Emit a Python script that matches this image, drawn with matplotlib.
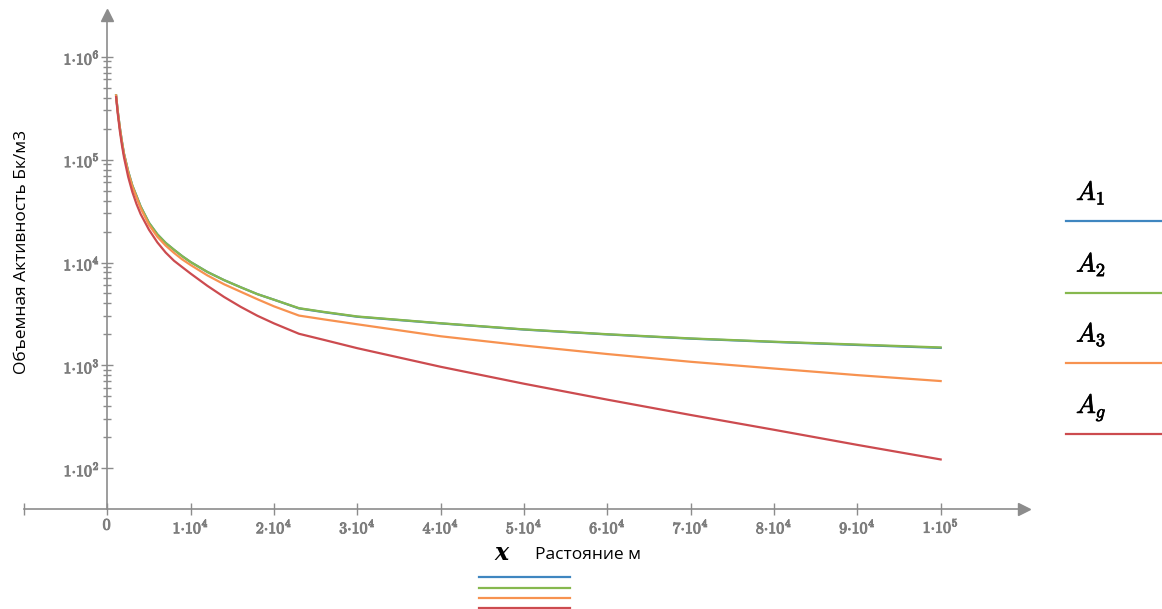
import matplotlib
matplotlib.use("Agg")
import matplotlib.pyplot as plt
import matplotlib.patheffects as pe
from matplotlib.lines import Line2D
from matplotlib.ticker import FixedLocator, NullFormatter

plt.rcParams['mathtext.fontset'] = 'cm'

# distance, m
dist = [1050, 1250, 1500, 1750, 2000, 2500, 3000, 3500, 4000, 5000, 6000, 7000, 8000,
        9000, 10000, 12000, 14000, 16000, 18000, 20000, 23000, 26000, 30000, 40000,
        50000, 60000, 70000, 80000, 90000, 100000]
# volume activity, Bq/m3
a1 = [4.2e5, 2.95e5, 2.05e5, 1.5e5, 1.14e5, 7.7e4, 5.6e4, 4.44e4, 3.5e4, 2.43e4, 1.88e4,
      1.55e4, 1.33e4, 1.15e4, 1.01e4, 8.1e3, 6.75e3, 5.75e3, 4.93e3, 4.35e3, 3.58e3,
      3.29e3, 2.97e3, 2.56e3, 2.23e3, 2.0e3, 1.82e3, 1.69e3, 1.58e3, 1.48e3]
a2 = [4.2e5, 2.95e5, 2.05e5, 1.5e5, 1.14e5, 7.7e4, 5.6e4, 4.44e4, 3.5e4, 2.43e4, 1.88e4,
      1.55e4, 1.33e4, 1.15e4, 1.01e4, 8.1e3, 6.75e3, 5.75e3, 4.93e3, 4.35e3, 3.6e3,
      3.31e3, 2.99e3, 2.57e3, 2.24e3, 2.01e3, 1.83e3, 1.7e3, 1.595e3, 1.495e3]
a3 = [4.2e5, 2.93e5, 2.02e5, 1.47e5, 1.12e5, 7.5e4, 5.45e4, 4.3e4, 3.37e4, 2.32e4, 1.78e4,
      1.46e4, 1.24e4, 1.07e4, 9.45e3, 7.5e3, 6.15e3, 5.2e3, 4.4e3, 3.75e3, 3.05e3,
      2.8e3, 2.51e3, 1.92e3, 1.56e3, 1.29e3, 1.085e3, 933, 805, 705]
ag = [4.05e5, 2.8e5, 1.9e5, 1.38e5, 1.05e5, 6.8e4, 4.85e4, 3.7e4, 2.95e4, 2.08e4, 1.57e4,
      1.25e4, 1.04e4, 9.0e3, 7.8e3, 5.94e3, 4.63e3, 3.71e3, 3.04e3, 2.56e3, 2.03e3,
      1.77e3, 1.47e3, 970, 664, 465, 330, 237, 169, 122]

series = [a1, a2, a3, ag]
names = [r'$A_1$', r'$A_2$', r'$A_3$', r'$A_g$']
colors = ['#3f86c0', '#86b84e', '#f79250', '#cc4b4f']

xticks = list(range(-10000, 100001, 10000))
xlabels = ([''] + [r'$\mathbf{0}$']
           + [r'$\mathbf{%d{\cdot}10^{4}}$' % k for k in range(1, 10)]
           + [r'$\mathbf{1{\cdot}10^{5}}$'])
yticks = [1e2, 1e3, 1e4, 1e5, 1e6]
ylabels = [r'$\mathbf{1{\cdot}10^{%d}}$' % k for k in range(2, 7)]

gray = '#8c8c8c'
tgray = '#7d7d7d'
W, H = 1162, 609

fig = plt.figure(figsize=(W / 100, H / 100), dpi=100)
ax = fig.add_axes([24 / W, (H - 509.3) / H, 1000 / W, (509.3 - 15) / H])

for vals, c in zip(series, colors):
    ax.plot(dist, vals, color=c, lw=1.6)

ax.set_yscale('log')
ax.set_xlim(-10000, 110000)
ax.set_ylim(40, 2.54e6)

ax.spines['top'].set_visible(False)
ax.spines['right'].set_visible(False)
ax.spines['left'].set_position(('data', 0))
for s in ('left', 'bottom'):
    ax.spines[s].set_color(gray)
    ax.spines[s].set_linewidth(1.2)
ax.plot(1, 40, '>', color=gray, ms=8, transform=ax.get_yaxis_transform(), clip_on=False)
ax.plot(0, 1, '^', color=gray, ms=8, transform=ax.get_xaxis_transform(), clip_on=False)

ax.set_xticks(xticks)
ax.set_xticklabels(xlabels)
ax.set_yticks(yticks)
ax.set_yticklabels(ylabels)
minors = [k * 10 ** e for e in range(2, 6) for k in range(2, 10)]
ax.yaxis.set_minor_locator(FixedLocator(minors))
ax.yaxis.set_minor_formatter(NullFormatter())
ax.xaxis.set_minor_locator(FixedLocator([]))
ax.tick_params(which='major', direction='inout', length=8, width=1, color=gray,
               labelcolor=tgray, labelsize=11.5)
ax.tick_params(axis='x', pad=2)
ax.tick_params(axis='y', pad=1.5)
ax.tick_params(which='minor', direction='inout', length=6, width=1, color=gray)
for lab in ax.get_xticklabels() + ax.get_yticklabels():
    lab.set_path_effects([pe.withStroke(linewidth=0.7, foreground=tgray)])

sans = ['Open Sans', 'DejaVu Sans']
fig.text(22 / W, 1 - 252 / H, 'Объемная Активность Бк/м3', rotation=90,
         ha='center', va='center', fontsize=12.5, family=sans)
fig.text(501 / W, 1 - 553 / H, 'x', ha='center', va='center', fontsize=17,
         family='DejaVu Serif', weight='bold', style='italic')
fig.text(535 / W, 1 - 555 / H, 'Растояние м', ha='left', va='center',
         fontsize=12.5, family=sans)

# short lines under the x label
for yy, c in zip([577, 588, 598, 608], colors):
    fig.add_artist(Line2D([479 / W, 570 / W], [1 - yy / H, 1 - yy / H], color=c, lw=1.6))

# legend on the right
for yy, name, c in zip([221, 292.7, 362.7, 434], names, colors):
    fig.add_artist(Line2D([1066 / W, 1.0], [1 - yy / H, 1 - yy / H], color=c, lw=1.6))
    fig.text(1076 / W, 1 - (yy - 21) / H, name, ha='left', va='baseline', fontsize=19,
             path_effects=[pe.withStroke(linewidth=0.5, foreground='black')])

fig.savefig('out.png', dpi=100)
